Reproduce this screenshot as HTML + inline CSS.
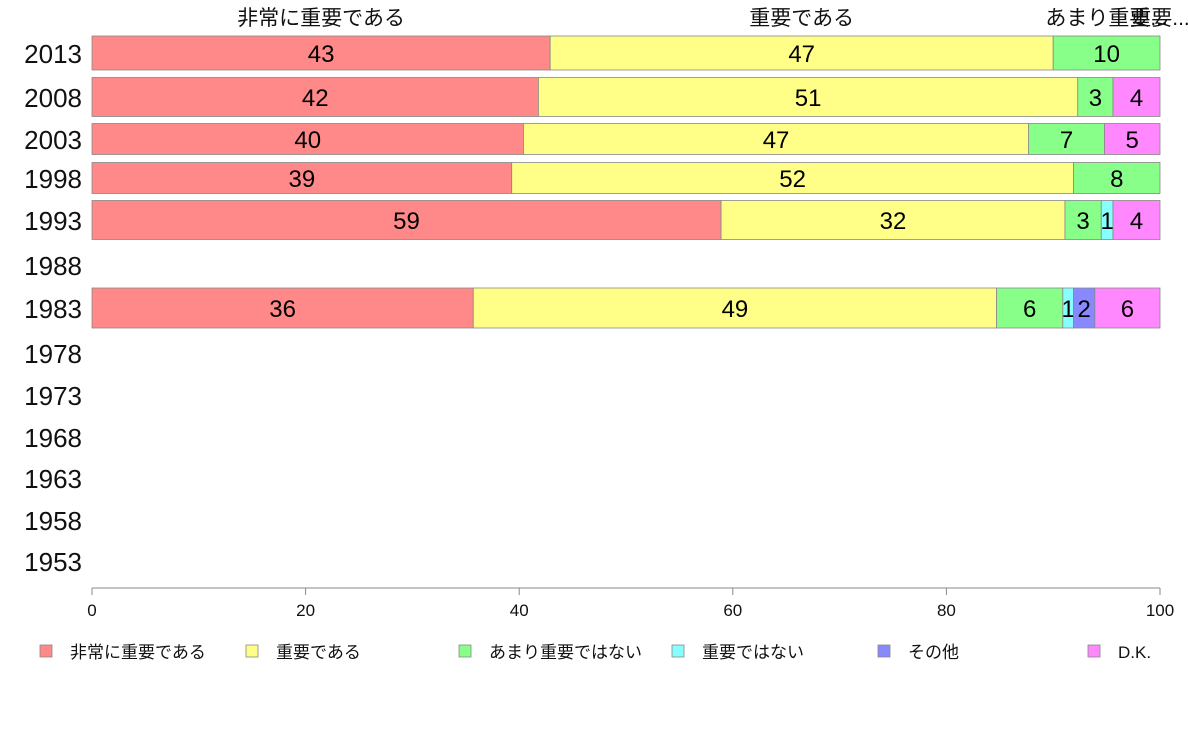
<!DOCTYPE html>
<html><head><meta charset="utf-8"><style>
body{margin:0;background:#fff;}
svg text{font-family:"Liberation Sans","Noto Sans CJK JP",sans-serif;}
</style></head><body>
<svg id="chart" width="1188" height="736" xmlns="http://www.w3.org/2000/svg"></svg>
<script>
const years=["2013","2008","2003","1998","1993","1988","1983","1978","1973","1968","1963","1958","1953"];
const categories=["非常に重要である","重要である","あまり重要ではない","重要ではない","その他","D.K."];
const s0=[42.9,41.8,40.4,39.3,58.9,0,35.7,0,0,0,0,0,0];
const s1=[47.1,50.5,47.3,52.6,32.2,0,49.0,0,0,0,0,0,0];
const s2=[10.0,3.3,7.1,8.1,3.4,0,6.2,0,0,0,0,0,0];
const s3=[0,0,0,0,1.1,0,1.0,0,0,0,0,0,0];
const s4=[0,0,0,0,0,0,2.0,0,0,0,0,0,0];
const s5=[0,4.4,5.2,0,4.4,0,6.1,0,0,0,0,0,0];
const printed0=["43","42","40","39","59","","36"];
const printed1=["47","51","47","52","32","","49"];
const printed2=["10","3","7","8","3","","6"];
const printed3=["","","","","1","","1"];
const printed4=["","","","","","","2"];
const printed5=["","4","5","","4","","6"];
const ticks=[0,20,40,60,80,100];
const topLabels=["非常に重要である","重要である","あまり重要...","重要..."];

const series=[s0,s1,s2,s3,s4,s5];
const printed=[printed0,printed1,printed2,printed3,printed4,printed5];
const colors=["#FF8888","#FFFF88","#88FF88","#88FFFF","#8888FF","#FF88FF"];
const rowY=[53,97,139,178,220,265,308,353,395,437,478,520,561];
const rowH=[34,39,31,31,39,0,40,0,0,0,0,0,0];
const svg=document.getElementById('chart');
const NS="http://www.w3.org/2000/svg";
const x=v=>92+v*10.68;
function mk(t,a,txt){const e=document.createElementNS(NS,t);for(const k in a)e.setAttribute(k,a[k]);if(txt!==undefined)e.textContent=txt;svg.appendChild(e);return e;}
years.forEach((y,i)=>{
  const t=mk('text',{x:82,y:rowY[i]+10,'text-anchor':'end','font-size':26,fill:'#111'},y);
  
  
  let cum=0;
  series.forEach((s,j)=>{
    const v=s[i];
    if(v>0&&rowH[i]>0){
      const r=mk('rect',{x:x(cum),y:rowY[i]-rowH[i]/2,width:x(cum+v)-x(cum),height:rowH[i],fill:colors[j],stroke:'#888','stroke-width':0.8});
      
      
      const lab=printed[j][i];
      if(lab){
        const tt=mk('text',{x:(x(cum)+x(cum+v))/2,y:rowY[i]+9,'text-anchor':'middle','font-size':24,fill:'#000'},lab);
        
        
      }
    }
    cum+=v;
  });
});
// top labels
let c=0;const tl=[];series.forEach(s=>{tl.push(c+s[0]/2);c+=s[0];});
const tlPos=[tl[0],tl[1],95,100];
topLabels.forEach((l,k)=>{
  const t=mk('text',{x:x(tlPos[k]),y:25,'text-anchor':'middle','font-size':21,fill:'#111'},l);
  
  
});
// axis
const ax=mk('line',{x1:92,x2:1160,y1:588,y2:588,stroke:'#888'});


ticks.forEach(v=>{
  const l=mk('line',{x1:x(v),x2:x(v),y1:588,y2:595,stroke:'#888'});
  
  
  const t=mk('text',{x:x(v),y:616,'text-anchor':'middle','font-size':17,fill:'#111'},String(v));
  
  
});
const legX=[40,246,459,672,878,1088];
categories.forEach((n,k)=>{
  const r=mk('rect',{x:legX[k],y:645,width:12,height:12,fill:colors[k],stroke:'#888','stroke-width':0.8});
  
  
  const t=mk('text',{x:legX[k]+30,y:658,'font-size':17,fill:'#111'},n);
  
  
});
</script>
</body></html>
